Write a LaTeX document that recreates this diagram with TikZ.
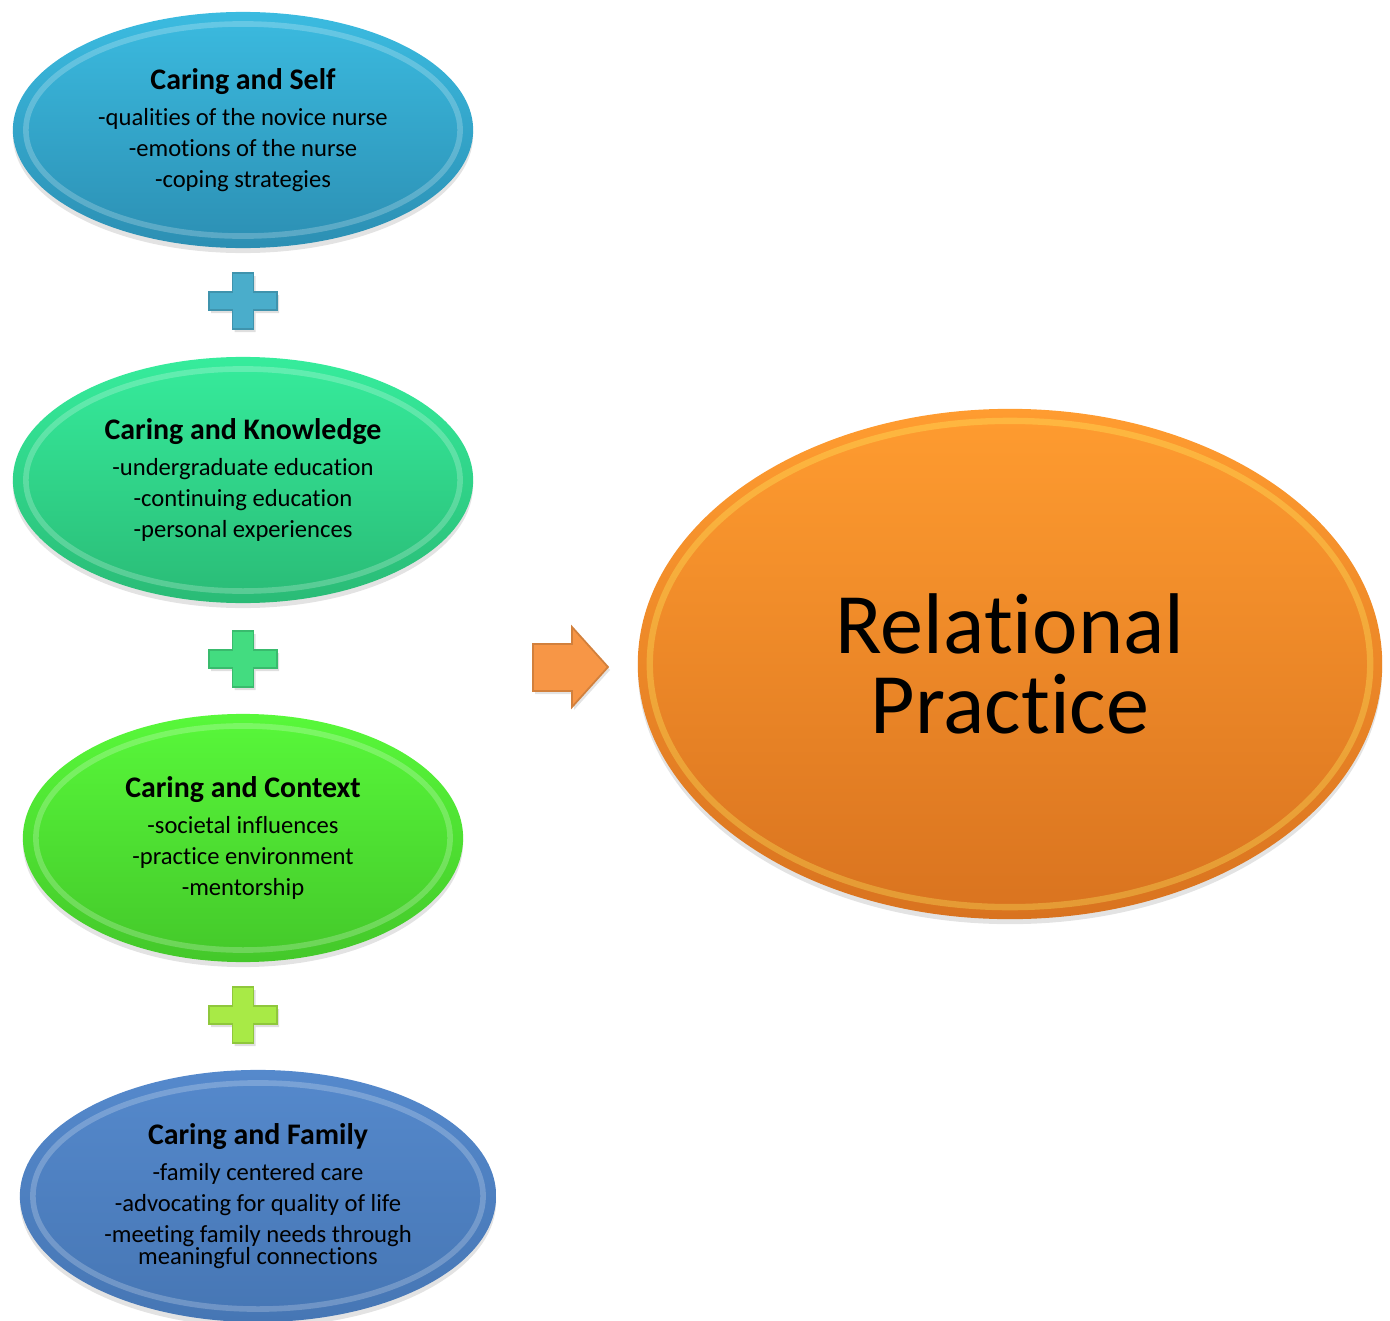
\documentclass[tikz,border=0pt]{standalone}
\usepackage{fontspec}
\setmainfont{Carlito}[RawFeature={-liga}]
\usetikzlibrary{shapes.geometric,shadows}
\definecolor{selfT}{HTML}{3BBBE0}
\definecolor{selfB}{HTML}{2C8FB3}
\definecolor{knowT}{HTML}{36EC9C}
\definecolor{knowB}{HTML}{2ABB76}
\definecolor{contT}{HTML}{58F83A}
\definecolor{contB}{HTML}{44C82A}
\definecolor{famT}{HTML}{5589CC}
\definecolor{famB}{HTML}{4676B4}
\definecolor{relT}{HTML}{FF9C30}
\definecolor{relB}{HTML}{D9731F}
\definecolor{plusA}{HTML}{4AADCB}
\definecolor{plusB}{HTML}{43DC80}
\definecolor{plusC}{HTML}{A8EA46}
\definecolor{arrowC}{HTML}{F79646}
\tikzset{
  blob/.style={ellipse, inner sep=0pt, align=center, text=black,
    font=\fontsize{7}{8.8}\selectfont,
    drop shadow={opacity=.22, shadow xshift=0pt, shadow yshift=-0.05cm}},
  rim/.style={draw=white, draw opacity=.22, line width=1.6pt},
  plusbox/.style={line width=0.5pt, drop shadow={opacity=.25, shadow xshift=0.02cm, shadow yshift=-0.03cm}}
}
\newcommand{\ttlfont}{\bfseries\fontsize{8.5}{8.8}\selectfont}
\newcommand{\plusmark}[4]{% cx cy fill border
  \begin{scope}[shift={(#1,#2)}]
  \filldraw[plusbox, fill=#3, draw=#4]
    (-10.5,-28) -- (10.5,-28) -- (10.5,-9) -- (34,-9) -- (34,9) -- (10.5,9) -- (10.5,28)
    -- (-10.5,28) -- (-10.5,9) -- (-34,9) -- (-34,-9) -- (-10.5,-9) -- cycle;
  \end{scope}}
\begin{document}
\begin{tikzpicture}[x=0.01cm,y=-0.01cm]
\useasboundingbox (0,0) rectangle (1390,1321);

% Caring and Self
\node[blob, minimum width=4.6cm, minimum height=2.36cm, top color=selfT, bottom color=selfB]
  (self) at (243,130) {{\ttlfont Caring and Self}\\[1.4pt]
  -qualities of the novice nurse\\ -emotions of the nurse\\ -coping strategies};
\draw[rim] (self.center) ellipse [x radius=2.17cm, y radius=1.06cm];

% Caring and Knowledge
\node[blob, minimum width=4.6cm, minimum height=2.46cm, top color=knowT, bottom color=knowB]
  (know) at (243,480) {{\ttlfont Caring and Knowledge}\\[1.4pt]
  -undergraduate education\\ -continuing education\\ -personal experiences};
\draw[rim] (know.center) ellipse [x radius=2.17cm, y radius=1.11cm];

% Caring and Context
\node[blob, minimum width=4.4cm, minimum height=2.48cm, top color=contT, bottom color=contB]
  (cont) at (243,838) {{\ttlfont Caring and Context}\\[1.4pt]
  -societal influences\\ -practice environment\\ -mentorship};
\draw[rim] (cont.center) ellipse [x radius=2.07cm, y radius=1.12cm];

% Caring and Family
\node[blob, minimum width=4.76cm, minimum height=2.52cm, top color=famT, bottom color=famB]
  (fam) at (258,1196) {{\ttlfont Caring and Family}\\[1.4pt]
  -family centered care\\ -advocating for quality of life\\ -meeting family needs through\\[-2.6pt] meaningful connections};
\draw[rim] (fam.center) ellipse [x radius=2.25cm, y radius=1.13cm];

% Relational Practice
\node[ellipse, inner sep=0pt, minimum width=7.44cm, minimum height=5.1cm, top color=relT, bottom color=relB,
  drop shadow={opacity=.22, shadow xshift=0pt, shadow yshift=-0.05cm},
  align=center, font=\fontsize{24.5}{22.6}\selectfont]
  (rel) at (1010,664) {Relational\\ Practice};
\draw[draw=yellow!60!white, draw opacity=.3, line width=1.8pt] (rel.center) ellipse [x radius=3.6cm, y radius=2.43cm];

% plus signs
\plusmark{243}{301}{plusA}{plusA!85!black}
\plusmark{243}{659}{plusB}{plusB!85!black}
\plusmark{243}{1015}{plusC}{plusC!85!black}

% arrow
\filldraw[fill=arrowC, draw=arrowC!85!black, line width=0.5pt,
  drop shadow={opacity=.22, shadow xshift=0.02cm, shadow yshift=-0.03cm}]
  (533,644) -- (572,644) -- (572,627) -- (608,667) -- (572,707) -- (572,691) -- (533,691) -- cycle;
\end{tikzpicture}
\end{document}
